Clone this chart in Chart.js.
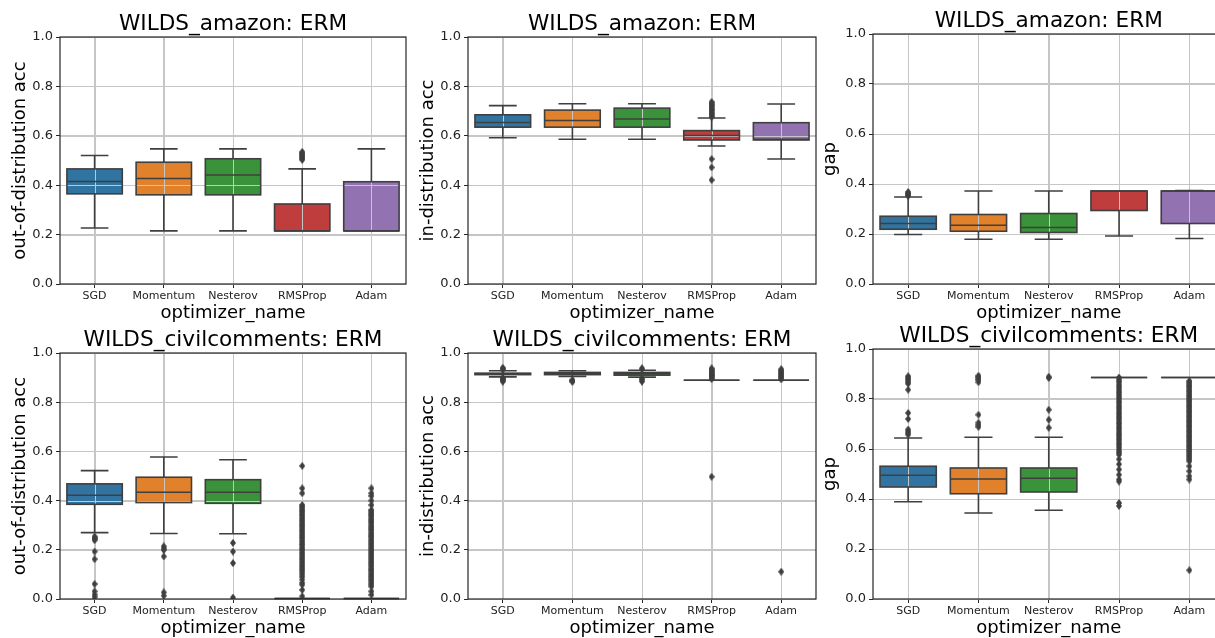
<!DOCTYPE html>
<html><head><meta charset="utf-8">
<script src="https://cdn.jsdelivr.net/npm/chart.js@4.4.0/dist/chart.umd.min.js"></script>
<style>
html,body{margin:0;padding:0;background:#fff;width:1215px;height:638px;overflow:hidden;position:relative}
canvas{position:absolute}
</style></head><body>
<canvas id="c1"></canvas><canvas id="c2"></canvas><canvas id="c3"></canvas>
<canvas id="c4"></canvas><canvas id="c5"></canvas><canvas id="c6"></canvas>
<script>
const optimizers = ['SGD', 'Momentum', 'Nesterov', 'RMSProp', 'Adam'];
const boxColors = ['#3274a1', '#e1812c', '#3a923a', '#c03d3e', '#9372b2'];
const yTicks = [0.0, 0.2, 0.4, 0.6, 0.8, 1.0];

// box stats per optimizer: [lower whisker, Q1, median, Q3, upper whisker]
const amazonOodBox = [[0.227,0.365,0.415,0.466,0.520],[0.215,0.361,0.427,0.493,0.547],[0.215,0.361,0.441,0.507,0.547],[0.215,0.215,0.215,0.324,0.466],[0.215,0.215,0.215,0.414,0.547]];
const amazonOodOutliers = [[],[],[],[0.503,0.508,0.512,0.517,0.521,0.526,0.530,0.535],[]];

const amazonIdBox = [[0.592,0.635,0.654,0.685,0.722],[0.586,0.635,0.662,0.704,0.730],[0.586,0.635,0.668,0.712,0.730],[0.559,0.583,0.601,0.621,0.672],[0.506,0.583,0.586,0.653,0.729]];
const amazonIdOutliers = [[],[],[],[0.676,0.681,0.687,0.692,0.698,0.704,0.709,0.715,0.721,0.726,0.731,0.737,0.506,0.472,0.421],[]];

const amazonGapBox = [[0.198,0.219,0.242,0.271,0.348],[0.179,0.211,0.235,0.278,0.372],[0.179,0.206,0.226,0.282,0.372],[0.192,0.294,0.372,0.372,0.372],[0.182,0.242,0.372,0.372,0.374]];
const amazonGapOutliers = [[0.352,0.356,0.360,0.364,0.368],[],[],[],[]];

const civilOodBox = [[0.270,0.385,0.422,0.468,0.522],[0.266,0.392,0.434,0.495,0.577],[0.265,0.389,0.434,0.485,0.566],[0.002,0.002,0.002,0.002,0.002],[0.002,0.002,0.002,0.002,0.002]];
const civilOodOutliers = [
  [0.254,0.249,0.244,0.239,0.193,0.162,0.061,0.031,0.018,0.008],
  [0.214,0.206,0.199,0.173,0.027,0.013],
  [0.228,0.193,0.146,0.006],
  [0.541,0.450,0.430,0.382,0.377,0.370,0.363,0.357,0.351,0.344,0.338,0.330,0.323,0.317,0.309,0.302,0.296,0.289,0.281,0.275,0.268,0.260,0.253,0.247,0.239,0.232,0.224,0.218,0.210,0.203,0.196,0.188,0.181,0.174,0.166,0.160,0.152,0.145,0.137,0.130,0.122,0.115,0.107,0.099,0.090,0.079,0.066,0.058,0.037,0.011],
  [0.450,0.430,0.419,0.400,0.382,0.362,0.356,0.349,0.342,0.336,0.328,0.321,0.314,0.307,0.299,0.292,0.285,0.278,0.270,0.263,0.256,0.249,0.241,0.234,0.227,0.220,0.212,0.205,0.198,0.191,0.183,0.176,0.169,0.162,0.154,0.147,0.140,0.133,0.125,0.118,0.111,0.103,0.096,0.089,0.081,0.074,0.066,0.058,0.051,0.031,0.017]
];

const civilIdBox = [[0.903,0.912,0.915,0.918,0.928],[0.905,0.912,0.917,0.921,0.928],[0.902,0.910,0.916,0.921,0.930],[0.889,0.889,0.889,0.889,0.889],[0.889,0.889,0.889,0.889,0.889]];
const civilIdOutliers = [
  [0.884,0.888,0.892,0.896,0.899,0.932,0.936,0.940],
  [0.883,0.887,0.891],
  [0.884,0.888,0.893,0.897,0.934,0.938],
  [0.894,0.898,0.903,0.907,0.911,0.915,0.920,0.924,0.928,0.933,0.937,0.497],
  [0.893,0.897,0.902,0.906,0.911,0.916,0.920,0.925,0.929,0.934,0.111]
];

const civilGapBox = [[0.389,0.448,0.495,0.531,0.644],[0.344,0.421,0.480,0.524,0.647],[0.355,0.428,0.483,0.524,0.647],[0.886,0.886,0.886,0.886,0.886],[0.886,0.886,0.886,0.886,0.886]];
const civilGapOutliers = [
  [0.891,0.886,0.880,0.874,0.867,0.861,0.837,0.744,0.720,0.678,0.671,0.664,0.657],
  [0.893,0.888,0.882,0.876,0.867,0.737,0.705,0.696,0.688],
  [0.889,0.884,0.757,0.717,0.685],
  [0.886,0.879,0.872,0.866,0.858,0.851,0.845,0.837,0.830,0.824,0.816,0.809,0.803,0.795,0.788,0.782,0.774,0.767,0.761,0.753,0.746,0.740,0.732,0.725,0.719,0.711,0.704,0.698,0.690,0.683,0.677,0.669,0.662,0.656,0.648,0.641,0.635,0.627,0.620,0.613,0.606,0.598,0.591,0.584,0.577,0.559,0.539,0.518,0.497,0.478,0.470,0.384,0.372],
  [0.872,0.866,0.859,0.852,0.846,0.839,0.832,0.826,0.819,0.812,0.806,0.799,0.792,0.786,0.779,0.772,0.766,0.759,0.752,0.746,0.739,0.732,0.726,0.719,0.712,0.706,0.699,0.692,0.686,0.679,0.672,0.666,0.659,0.652,0.646,0.639,0.632,0.626,0.619,0.612,0.606,0.599,0.592,0.586,0.579,0.572,0.565,0.558,0.551,0.531,0.511,0.491,0.478,0.115]
];

Chart.defaults.font.family = "'DejaVu Sans', sans-serif";
const EDGE = '#3f3f3f';
const SPINE = '#262626';
const GRID = '#c6c6c6';

const dia = document.createElement('canvas');
dia.width = 6; dia.height = 8;
(function(){ const d = dia.getContext('2d'); d.fillStyle = EDGE; d.beginPath(); d.moveTo(3,0); d.lineTo(6,4); d.lineTo(3,8); d.lineTo(0,4); d.closePath(); d.fill(); })();

const panels = [
  {id:'c1', box:amazonOodBox, out:amazonOodOutliers, title:'WILDS_amazon: ERM', ylabel:'out-of-distribution acc', left:0, top:0, w:410, h:330, pL:60, pR:408, pT:37, pB:284, yMid:20.3},
  {id:'c2', box:amazonIdBox, out:amazonIdOutliers, title:'WILDS_amazon: ERM', ylabel:'in-distribution acc', left:410, top:0, w:410, h:330, pL:58, pR:407, pT:37, pB:284, yMid:18.8},
  {id:'c3', box:amazonGapBox, out:amazonGapOutliers, title:'WILDS_amazon: ERM', ylabel:'gap', left:815, top:0, w:420, h:330, pL:58, pR:409.5, pT:34, pB:284, yMid:15.3},
  {id:'c4', box:civilOodBox, out:civilOodOutliers, title:'WILDS_civilcomments: ERM', ylabel:'out-of-distribution acc', left:0, top:320, w:410, h:318, pL:60, pR:408, pT:33, pB:279, yMid:20.3},
  {id:'c5', box:civilIdBox, out:civilIdOutliers, title:'WILDS_civilcomments: ERM', ylabel:'in-distribution acc', left:410, top:320, w:410, h:318, pL:58, pR:407, pT:33, pB:279, yMid:18.8},
  {id:'c6', box:civilGapBox, out:civilGapOutliers, title:'WILDS_civilcomments: ERM', ylabel:'gap', left:815, top:320, w:420, h:318, pL:58, pR:409.5, pT:29, pB:279, yMid:15.3}
];

function makePanel(p) {
  const cv = document.getElementById(p.id);
  cv.style.left = p.left + 'px'; cv.style.top = p.top + 'px';
  cv.width = p.w; cv.height = p.h;
  cv.style.width = p.w + 'px'; cv.style.height = p.h + 'px';

  const outlierPoints = [];
  p.out.forEach((vals, i) => vals.forEach(v => outlierPoints.push({x: optimizers[i], y: v})));

  const boxPlugin = {
    id: 'boxes',
    // grid lines over the box fills (but under whiskers and fliers)
    afterDatasetDraw(chart, args) {
      if (args.index !== 0) return;
      const ctx = chart.ctx, a = chart.chartArea, xs = chart.scales.x, ys = chart.scales.y;
      ctx.save(); ctx.strokeStyle = GRID; ctx.lineWidth = 1;
      ctx.beginPath();
      xs.ticks.forEach((t, i) => { const x = Math.round(xs.getPixelForTick(i)) + 0.5; ctx.moveTo(x, a.top); ctx.lineTo(x, a.bottom); });
      yTicks.forEach(v => { const y = Math.round(ys.getPixelForValue(v)) + 0.5; ctx.moveTo(a.left, y); ctx.lineTo(a.right, y); });
      ctx.stroke(); ctx.restore();
    },
    afterDatasetsDraw(chart) {
      const ctx = chart.ctx, ys = chart.scales.y;
      const meta = chart.getDatasetMeta(0);
      const Y = v => ys.getPixelForValue(v);
      meta.data.forEach((bar, i) => {
        const [lo, q1, md, q3, hi] = p.box[i];
        const x = bar.x, w = bar.width;
        ctx.save();
        ctx.strokeStyle = EDGE; ctx.lineWidth = 1.6; ctx.lineCap = 'butt';
        ctx.beginPath();
        ctx.moveTo(x, Y(q3)); ctx.lineTo(x, Y(hi));
        ctx.moveTo(x, Y(q1)); ctx.lineTo(x, Y(lo));
        ctx.moveTo(x - w/4, Y(hi)); ctx.lineTo(x + w/4, Y(hi));
        ctx.moveTo(x - w/4, Y(lo)); ctx.lineTo(x + w/4, Y(lo));
        ctx.moveTo(x - w/2, Y(md)); ctx.lineTo(x + w/2, Y(md));
        ctx.stroke();
        ctx.strokeRect(x - w/2, Y(q3), w, Y(q1) - Y(q3));
        ctx.restore();
      });
    }
  };
  const framePlugin = {
    id: 'frame',
    afterDraw(chart) {
      const a = chart.chartArea, ctx = chart.ctx;
      ctx.save(); ctx.strokeStyle = SPINE; ctx.lineWidth = 1.2;
      ctx.strokeRect(a.left, a.top, a.right - a.left, a.bottom - a.top);
      ctx.restore();
    }
  };

  new Chart(cv, {
    type: 'bar',
    data: {
      labels: optimizers,
      datasets: [
        {type:'bar', data: p.box.map(b => [b[1], b[3]]), backgroundColor: boxColors, borderWidth: 0,
         barPercentage: 0.8, categoryPercentage: 1.0, order: 2},
        {type:'line', data: outlierPoints, showLine: false, pointStyle: dia, pointRadius: 3,
         borderWidth: 0, pointBorderWidth: 0, backgroundColor: EDGE, order: 1}
      ]
    },
    options: {
      responsive: false, animation: false, devicePixelRatio: 1,
      layout: {padding: {left: 0, right: p.w - p.pR, top: 0, bottom: 0}},
      plugins: {
        legend: {display: false}, tooltip: {enabled: false},
        title: {display: true, text: p.title, fullSize: false, color: '#000',
          font: {size: 21.6, weight: 'normal', lineHeight: 1},
          padding: {top: p.pT - 2.2 - 21.6, bottom: 2.2}}
      },
      scales: {
        x: {
          offset: true,
          grid: {offset: false, color: GRID, lineWidth: 1, tickColor: SPINE, tickLength: 4, tickWidth: 1},
          border: {display: false},
          ticks: {font: {size: 11}, color: '#222', padding: 2, maxRotation: 0, autoSkip: false},
          title: {display: true, text: 'optimizer_name', color: '#000', font: {size: 18, lineHeight: 1},
            padding: {top: 0, bottom: (p.h - 9) - (p.pB + 29.8)}},
          afterFit: s => { s.height = p.h - p.pB; }
        },
        y: {
          min: 0, max: 1,
          afterBuildTicks: s => { s.ticks = yTicks.map(v => ({value: v})); },
          grid: {color: GRID, lineWidth: 1, tickColor: SPINE, tickLength: 4, tickWidth: 1},
          border: {display: false},
          ticks: {font: {size: 13}, color: '#222', padding: 3, callback: v => Number(v).toFixed(1)},
          title: {display: true, text: p.ylabel, color: '#000', font: {size: 18, lineHeight: 1},
            padding: {top: p.yMid - 9, bottom: 0}},
          afterFit: s => { s.width = p.pL; }
        }
      }
    },
    plugins: [boxPlugin, framePlugin]
  });
}
panels.forEach(makePanel);
</script>
</body></html>
